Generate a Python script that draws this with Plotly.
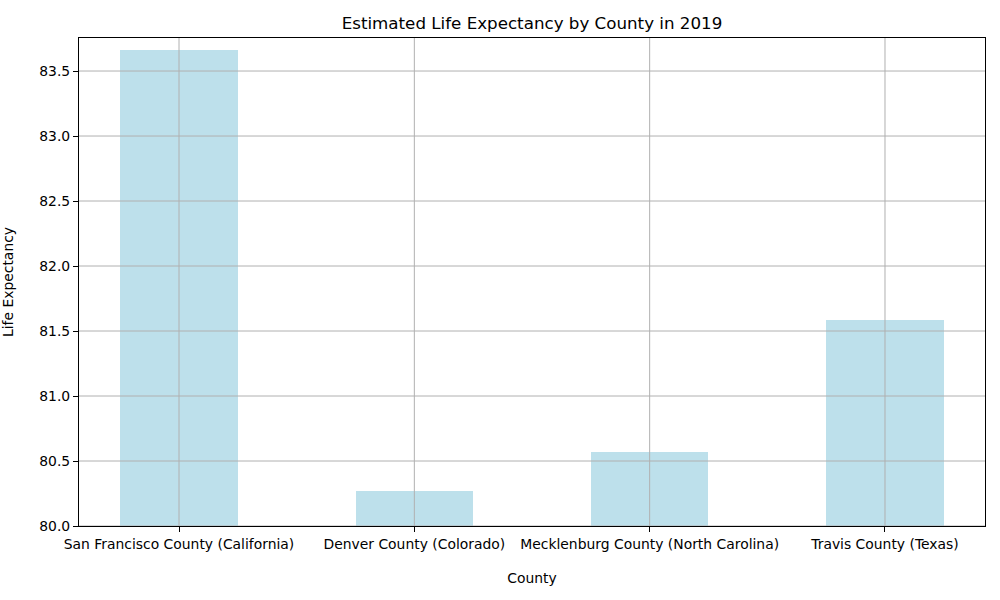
import plotly.graph_objects as go

counties = ["San Francisco County (California)", "Denver County (Colorado)",
            "Mecklenburg County (North Carolina)", "Travis County (Texas)"]
life_expectancy = [83.66, 80.27, 80.57, 81.585]
y_ticks = [80.0, 80.5, 81.0, 81.5, 82.0, 82.5, 83.0, 83.5]

font = "DejaVu Sans"
grid_color = "#b0b0b0"

fig = go.Figure()
fig.add_trace(go.Bar(
    x=list(range(len(counties))), y=life_expectancy, width=0.5,
    marker=dict(color="rgba(173,216,230,0.8)", line=dict(width=0)),
))

# grid lines drawn above bars (as in reference)
shapes = []
for t in y_ticks:
    shapes.append(dict(type="line", xref="paper", x0=0, x1=1, yref="y", y0=t, y1=t,
                       line=dict(color=grid_color, width=1), layer="above"))
for i in range(len(counties)):
    shapes.append(dict(type="line", xref="x", x0=i, x1=i, yref="paper", y0=0, y1=1,
                       line=dict(color=grid_color, width=1), layer="above"))

fig.update_layout(
    width=1000, height=600,
    margin=dict(l=79, r=15, t=38, b=74),
    paper_bgcolor="white", plot_bgcolor="white",
    font=dict(family=font, size=13.9, color="black"),
    title=dict(text="Estimated Life Expectancy by County in 2019", x=0.532, xanchor="center",
               y=1 - 23 / 600, yanchor="middle", font=dict(size=16.7)),
    showlegend=False,
    bargap=0,
    shapes=shapes,
    xaxis=dict(
        automargin=False,
        range=[-0.425, 3.425], tickmode="array", tickvals=list(range(len(counties))),
        ticktext=counties, showgrid=False, zeroline=False,
        showline=True, linecolor="black", linewidth=1, mirror=True,
        ticks="outside", ticklen=5, tickcolor="black",
        title=dict(text="County", standoff=22, font=dict(size=13.9)),
    ),
    yaxis=dict(
        automargin=False,
        range=[80.0, 83.754], tickmode="array", tickvals=y_ticks,
        ticktext=[f"{t:.1f}" for t in y_ticks], showgrid=False, zeroline=False,
        showline=True, linecolor="black", linewidth=1, mirror=True,
        ticks="outside", ticklen=5, tickcolor="black",
        title=dict(text="Life Expectancy", standoff=24, font=dict(size=13.9)),
    ),
)

fig.write_html("out.html")
